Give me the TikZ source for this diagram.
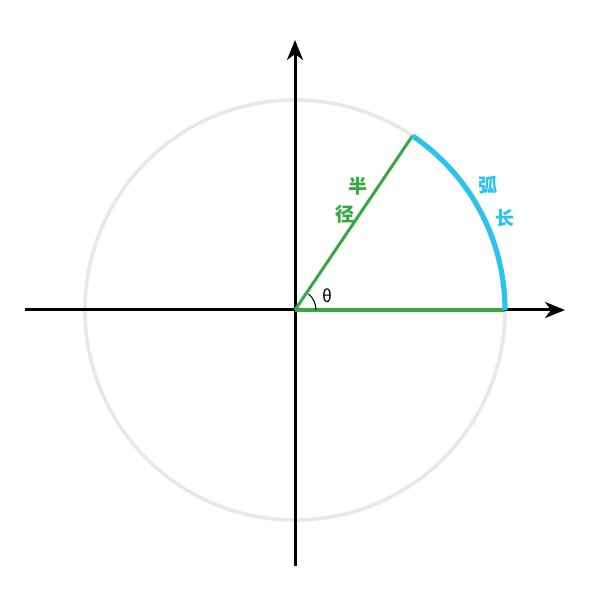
\documentclass[tikz,border=0pt]{standalone}
\usepackage{fontspec}
\newfontfamily\cjk{Noto Sans CJK SC}
\usetikzlibrary{arrows.meta}
\begin{document}
\begin{tikzpicture}[x=1pt,y=1pt,
  axis/.style={line width=3pt,black,-{Stealth[length=20pt,width=16pt,inset=6pt]}},
  grn/.style={line width=3.6pt,draw=radgreen},
  lbl/.style={font=\cjk\bfseries\fontsize{19}{19}\selectfont,inner sep=0pt}]
\definecolor{radgreen}{HTML}{37A843}
\definecolor{arcblue}{HTML}{2BC3EC}
\definecolor{ringgray}{HTML}{E8E8E8}
\useasboundingbox[fill=white] (-295,-299) rectangle (303,310);
\coordinate (O) at (0,0);
\coordinate (L) at (-270,0);
\coordinate (R) at (270,0);
\coordinate (B) at (0,-256);
\coordinate (T) at (0,270);
\coordinate (P) at (56:210);
\coordinate (Q) at (210,0);
\draw[ringgray,line width=3.6pt] (O) circle[radius=210];
\draw[axis] (L) -- (R);
\draw[axis] (B) -- (T);
\draw[grn] (O) -- (Q);
\draw[grn,line width=3pt] (O) -- (P);
\draw[arcblue,line width=5.2pt] (Q) arc[start angle=0,end angle=56,radius=210];
\draw[black,line width=1pt] (21,0) arc[start angle=0,end angle=50,radius=21];
\node[font=\cjk\fontsize{17}{17}\selectfont,inner sep=0pt] (th) at (32,14) {θ};
\node[lbl,text=radgreen] (b1) at (63,124) {半};
\node[lbl,text=radgreen] (b2) at (50,96) {径};
\node[lbl,text=arcblue] (h1) at (193,125) {弧};
\node[lbl,text=arcblue] (h2) at (210,92) {长};
\end{tikzpicture}
\end{document}
